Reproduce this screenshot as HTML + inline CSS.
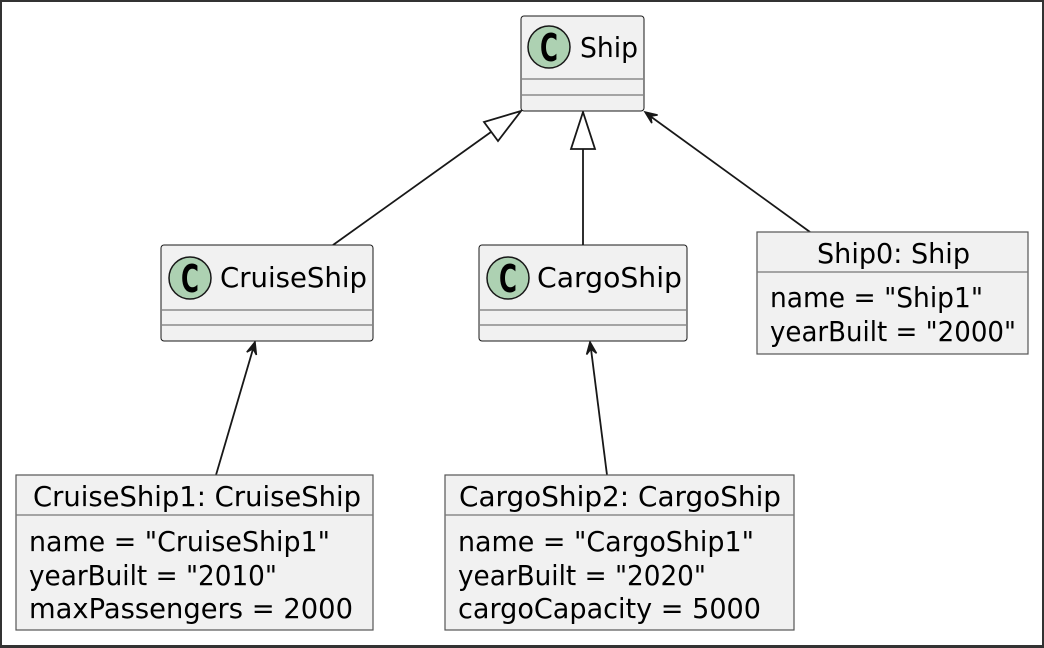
<!DOCTYPE html>
<html><head><meta charset="utf-8"><style>
html,body{margin:0;padding:0;background:#fff;}
svg{display:block;}
text{font-family:"DejaVu Sans","Liberation Sans",sans-serif;fill:#000;}
</style></head><body>
<svg width="1044" height="648" viewBox="0 0 1044 648" xmlns="http://www.w3.org/2000/svg">
<rect x="1" y="1" width="1042" height="645" fill="#fff" stroke="#333" stroke-width="2"/>
<rect x="0" y="645" width="1044" height="3" fill="#333"/>
<g stroke="#181818" stroke-width="1.8" fill="none">
<line x1="333" y1="245" x2="491" y2="132"/>
<line x1="583" y1="245" x2="583" y2="149"/>
<line x1="810" y1="232" x2="650" y2="116"/>
<line x1="216" y1="475" x2="253" y2="349"/>
<line x1="607" y1="475" x2="591" y2="349"/>
</g>
<polygon points="521,111 484,122 498,141" fill="#fff" stroke="#181818" stroke-width="1.8"/>
<polygon points="583,112 571,149 595,149" fill="#fff" stroke="#181818" stroke-width="1.8"/>
<polygon points="645,112 651.8,123.1 650.7,116.1 657.6,115" fill="#181818" stroke="#181818" stroke-width="1.5"/>
<polygon points="255,342 256.4,354.9 253,348.7 246.8,352.1" fill="#181818" stroke="#181818" stroke-width="1.5"/>
<polygon points="590,342 586.6,354.5 590.9,348.9 596.5,353.3" fill="#181818" stroke="#181818" stroke-width="1.5"/>
<g fill="#f1f1f1" stroke="#181818" stroke-width="1">
<rect x="521" y="16" width="123" height="95" rx="3"/>
<rect x="161" y="245" width="212" height="96" rx="3"/>
<rect x="479" y="245" width="208" height="96" rx="3"/>
</g>
<g fill="#f1f1f1" stroke="#555" stroke-width="1.2">
<rect x="757" y="232" width="271" height="122"/>
<rect x="16" y="475" width="357" height="155"/>
<rect x="445" y="475" width="349" height="155"/>
</g>
<g stroke="#777" stroke-width="1.2">
<line x1="522" y1="79" x2="643" y2="79"/><line x1="522" y1="95" x2="643" y2="95"/>
<line x1="162" y1="310" x2="372" y2="310"/><line x1="162" y1="325" x2="372" y2="325"/>
<line x1="480" y1="310" x2="686" y2="310"/><line x1="480" y1="325" x2="686" y2="325"/>
<line x1="757" y1="272" x2="1028" y2="272"/>
<line x1="16" y1="515" x2="373" y2="515"/>
<line x1="445" y1="515" x2="794" y2="515"/>
</g>
<g fill="#add1b2" stroke="#181818" stroke-width="1.5">
<circle cx="549" cy="47" r="21"/>
<circle cx="190" cy="278" r="21"/>
<circle cx="508" cy="278" r="21"/>
</g>
<g font-size="38" font-weight="bold" text-anchor="middle">
<text x="549" y="61" textLength="18" lengthAdjust="spacingAndGlyphs">C</text><text x="190" y="292" textLength="18" lengthAdjust="spacingAndGlyphs">C</text><text x="508" y="292" textLength="18" lengthAdjust="spacingAndGlyphs">C</text>
</g>
<g font-size="28">
<text x="580" y="57" textLength="58" lengthAdjust="spacingAndGlyphs">Ship</text>
<text x="220" y="287" textLength="147" lengthAdjust="spacingAndGlyphs">CruiseShip</text>
<text x="537" y="287" textLength="145" lengthAdjust="spacingAndGlyphs">CargoShip</text>
<text x="817" y="263" textLength="153" lengthAdjust="spacingAndGlyphs">Ship0: Ship</text>
<text x="770" y="307" textLength="213" lengthAdjust="spacingAndGlyphs">name = "Ship1"</text>
<text x="770" y="341" textLength="246" lengthAdjust="spacingAndGlyphs">yearBuilt = "2000"</text>
<text x="33" y="506" textLength="328" lengthAdjust="spacingAndGlyphs">CruiseShip1: CruiseShip</text>
<text x="29" y="551" textLength="301" lengthAdjust="spacingAndGlyphs">name = "CruiseShip1"</text>
<text x="29" y="585" textLength="248" lengthAdjust="spacingAndGlyphs">yearBuilt = "2010"</text>
<text x="29" y="618" textLength="324" lengthAdjust="spacingAndGlyphs">maxPassengers = 2000</text>
<text x="459" y="506" textLength="322" lengthAdjust="spacingAndGlyphs">CargoShip2: CargoShip</text>
<text x="458" y="551" textLength="296" lengthAdjust="spacingAndGlyphs">name = "CargoShip1"</text>
<text x="458" y="585" textLength="248" lengthAdjust="spacingAndGlyphs">yearBuilt = "2020"</text>
<text x="458" y="618" textLength="303" lengthAdjust="spacingAndGlyphs">cargoCapacity = 5000</text>
</g>
</svg>
</body></html>
